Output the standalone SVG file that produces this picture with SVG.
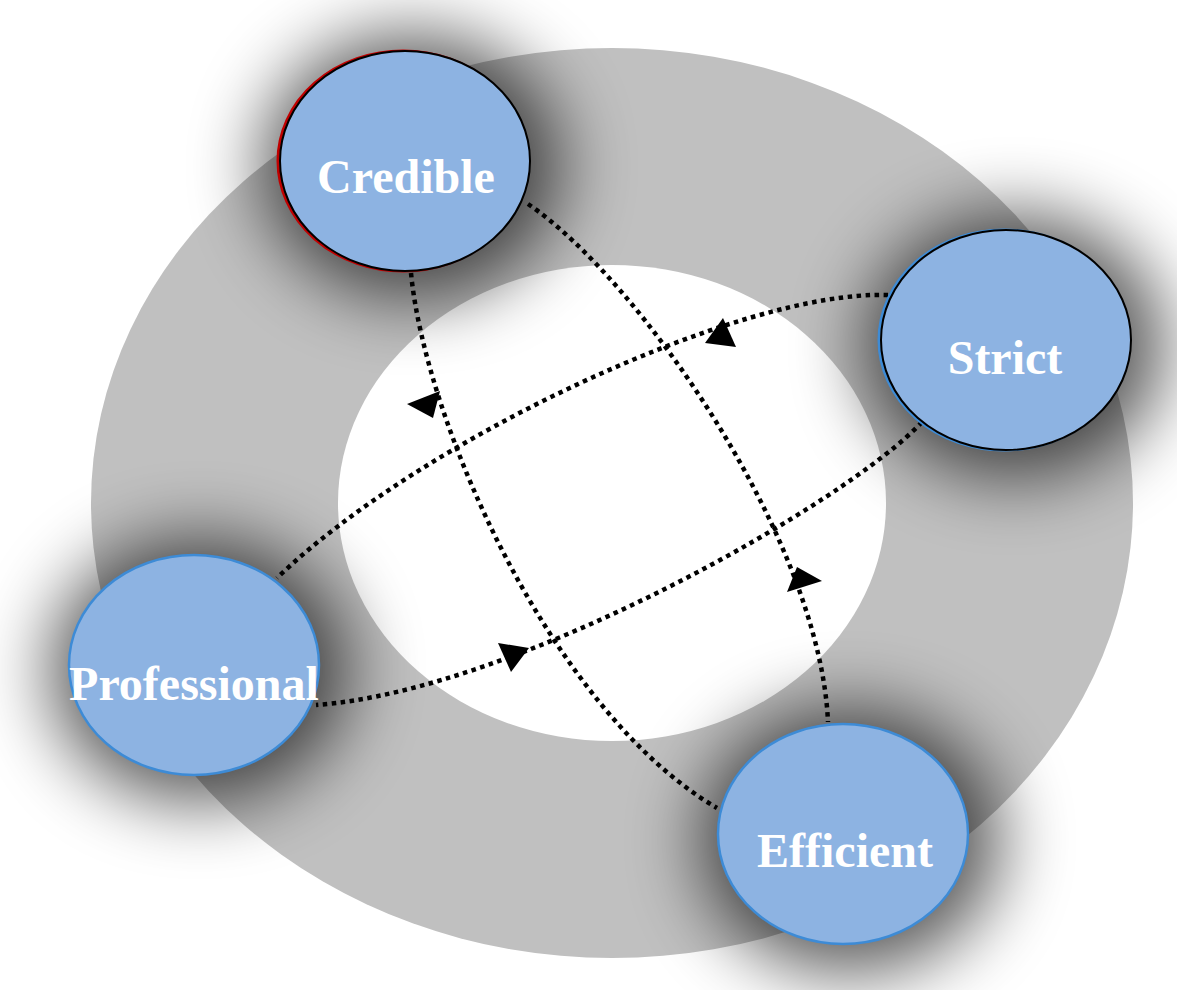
<svg xmlns="http://www.w3.org/2000/svg" width="1177" height="990" viewBox="0 0 1177 990">
<defs>
<filter id="blur" x="-60%" y="-60%" width="220%" height="220%"><feGaussianBlur stdDeviation="36"/></filter>
<style>
.shadow{fill:#000;opacity:0.66;filter:url(#blur)}
.node{fill:#8db3e2}
.lbl{font-family:"Liberation Serif","Times New Roman",serif;font-weight:bold;font-size:48px;fill:#fff;text-anchor:middle}
.conn{fill:none;stroke:#000;stroke-width:4.5;stroke-dasharray:4.5 4.5}
.head{fill:#000}
</style>
</defs>
<rect width="1177" height="990" fill="#fff"/>
<g id="rings">
<ellipse cx="612" cy="503" rx="521" ry="455" fill="#c0c0c0"/>
<ellipse cx="612" cy="503" rx="274" ry="238" fill="#fff"/>
</g>
<g id="shadows">
<ellipse class="shadow" cx="412" cy="166" rx="150" ry="132"/>
<ellipse class="shadow" cx="1014" cy="346" rx="150" ry="132"/>
<ellipse class="shadow" cx="200" cy="670" rx="150" ry="132"/>
<ellipse class="shadow" cx="850" cy="840" rx="150" ry="132"/>
</g>
<g id="connectors">
<path class="conn" d="M411,273 C425,420 550,710 717,808"/>
<path class="conn" d="M528,204 C640,280 820,540 828,722"/>
<path class="conn" d="M888,295 C740,290 420,440 277,578"/>
<path class="conn" d="M922,422 C850,500 520,690 316,705"/>
<polygon class="head" points="407,404 440,391 433,418"/>
<polygon class="head" points="797,567 822,581 787,592"/>
<polygon class="head" points="723,318 736,347 705,343"/>
<polygon class="head" points="498,643 529,648 511,672"/>
</g>
<g id="credible">
<ellipse cx="403" cy="161" rx="125" ry="110" fill="none" stroke="#c00000" stroke-width="3"/>
<ellipse class="node" cx="405" cy="161" rx="125" ry="110" stroke="#000" stroke-width="2"/>
<text class="lbl" x="406" y="193">Credible</text>
</g>
<g id="strict">
<ellipse cx="1004" cy="340" rx="125" ry="110" fill="none" stroke="#3d8bd6" stroke-width="3"/>
<ellipse class="node" cx="1006" cy="340" rx="125" ry="110" stroke="#000" stroke-width="2"/>
<text class="lbl" x="1005" y="374">Strict</text>
</g>
<g id="professional">
<ellipse class="node" cx="194" cy="665" rx="125" ry="110" stroke="#3d8bd6" stroke-width="2.5"/>
<text class="lbl" x="194" y="700">Professional</text>
</g>
<g id="efficient">
<ellipse class="node" cx="843" cy="834" rx="125" ry="110" stroke="#3d8bd6" stroke-width="2.5"/>
<text class="lbl" x="845" y="867">Efficient</text>
</g>
</svg>
